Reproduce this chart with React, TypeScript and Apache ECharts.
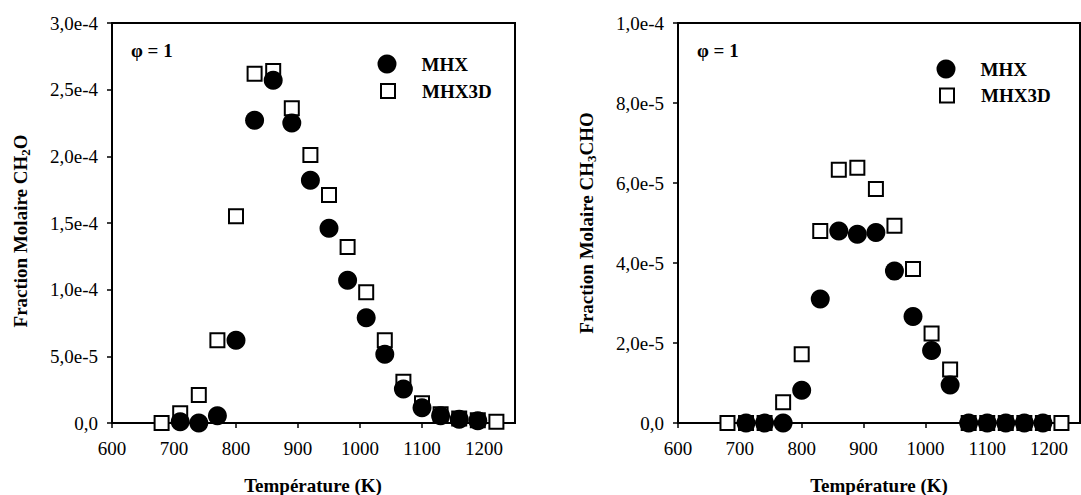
import React, { useEffect, useRef } from "react";
import * as echarts from "echarts";

// ---- data ----
const tempsMHX = [710, 740, 770, 800, 830, 860, 890, 920, 950, 980, 1010, 1040, 1070, 1100, 1130, 1160, 1190];
const tempsMHX3D = [680, 710, 740, 770, 800, 830, 860, 890, 920, 950, 980, 1010, 1040, 1070, 1100, 1130, 1160, 1190, 1220];

const ch2oMHX = [1.0e-6, 0, 5.5e-6, 6.2e-5, 2.27e-4, 2.57e-4, 2.25e-4, 1.82e-4, 1.46e-4, 1.07e-4, 7.9e-5, 5.15e-5, 2.55e-5, 1.15e-5, 5.5e-6, 2.8e-6, 1.7e-6];
const ch2oMHX3D = [0, 7.3e-6, 2.1e-5, 6.2e-5, 1.55e-4, 2.62e-4, 2.64e-4, 2.36e-4, 2.01e-4, 1.71e-4, 1.32e-4, 9.8e-5, 6.2e-5, 3.1e-5, 1.48e-5, 6.5e-6, 3.3e-6, 2.0e-6, 1.0e-6];

const ch3choMHX = [0, 0, 0, 8.2e-6, 3.1e-5, 4.8e-5, 4.72e-5, 4.76e-5, 3.8e-5, 2.66e-5, 1.81e-5, 9.5e-6, 0, 0, 0, 0, 0];
const ch3choMHX3D = [0, 0, 0, 5.2e-6, 1.72e-5, 4.8e-5, 6.33e-5, 6.38e-5, 5.85e-5, 4.93e-5, 3.85e-5, 2.24e-5, 1.34e-5, 0, 0, 0, 0, 0, 0];

const seriesNames = ["MHX", "MHX3D"];
const xMin = 600;
const xMax = 1250;
const xStep = 100;
const yMaxLeft = 3.0e-4;
const yStepLeft = 5.0e-5;
const yMaxRight = 1.0e-4;
const yStepRight = 2.0e-5;
const phiLabel = "φ = 1";
const xTitle = "Température (K)";

const FONT = "Liberation Serif, Times New Roman, serif";

const pairs = (xs: number[], ys: number[]) => xs.map((x, i) => [x, ys[i]]);

const fmtY = (v: number) => {
  if (Math.abs(v) < 1e-12) return "0,0";
  return v.toExponential(1).replace(".", ",").replace("e+", "e");
};

export default function App() {
  const ref = useRef<HTMLDivElement>(null);
  useEffect(() => {
    if (!ref.current) return;
    const chart = echarts.init(ref.current, null, { renderer: "svg" });

    const grids = [
      { left: 112, top: 23, width: 403, height: 400 },
      { left: 678, top: 23, width: 402, height: 400 },
    ];

    const xAxisCfg = (gi: number) => ({
      type: "value",
      gridIndex: gi,
      min: xMin,
      max: xMax,
      interval: xStep,
      axisLine: { show: true, onZero: false, lineStyle: { color: "#000", width: 2 } },
      axisTick: { show: true, inside: false, length: 5, lineStyle: { color: "#000", width: 1.5 } },
      splitLine: { show: false },
      axisLabel: {
        color: "#000",
        fontFamily: FONT,
        fontSize: 19,
        margin: 16,
        showMaxLabel: false,
        formatter: (v: number) => (v >= xMax ? "" : String(v)),
      },
    });

    const yAxisCfg = (gi: number, max: number, step: number) => ({
      type: "value",
      gridIndex: gi,
      min: 0,
      max,
      interval: step,
      axisLine: { show: true, onZero: false, lineStyle: { color: "#000", width: 2 } },
      axisTick: { show: true, inside: false, length: 5, lineStyle: { color: "#000", width: 1.5 } },
      splitLine: { show: false },
      axisLabel: {
        color: "#000",
        fontFamily: FONT,
        fontSize: 19,
        margin: 14,
        formatter: fmtY,
      },
    });

    const circleStyle = { color: "#000", opacity: 1 };
    const squareStyle = { color: "#fff", borderColor: "#000", borderWidth: 2, opacity: 1 };

    const mkSeries = (gi: number, name: string, data: number[][]) => ({
      type: "scatter",
      name,
      xAxisIndex: gi,
      yAxisIndex: gi,
      data,
      symbol: name === "MHX" ? "circle" : "rect",
      symbolSize: name === "MHX" ? 19 : 14,
      itemStyle: name === "MHX" ? circleStyle : squareStyle,
      emphasis: { disabled: true },
    });

    const mkLegend = (name: string, left: number, top: number) => {
      const isCircle = name === "MHX";
      return {
        data: [name],
        orient: "vertical",
        left,
        top,
        padding: 0,
        itemWidth: isCircle ? 19 : 14,
        itemHeight: isCircle ? 19 : 14,
        selectedMode: false,
        textStyle: {
          color: "#000",
          fontFamily: FONT,
          fontWeight: "bold",
          fontSize: 19,
          lineHeight: 19,
          padding: [0, 0, 0, isCircle ? 20 : 22],
        },
      };
    };

    const titleRich = {
      a: { fontFamily: FONT, fontWeight: "bold", fontSize: 19, lineHeight: 24, fill: "#000", color: "#000" },
      s: { fontFamily: FONT, fontWeight: "bold", fontSize: 13, lineHeight: 13, verticalAlign: "bottom", fill: "#000", color: "#000" },
    };

    const boldText = { fontFamily: FONT, fontWeight: "bold", fontSize: 19, fill: "#000" };

    const option = {
      animation: false,
      backgroundColor: "#fff",
      grid: grids.map((g) => ({ ...g, show: true, borderColor: "#000", borderWidth: 2, backgroundColor: "transparent" })),
      xAxis: [xAxisCfg(0), xAxisCfg(1)],
      yAxis: [yAxisCfg(0, yMaxLeft, yStepLeft), yAxisCfg(1, yMaxRight, yStepRight)],
      legend: [
        mkLegend(seriesNames[0], 377.5, 54.5),
        mkLegend(seriesNames[1], 380, 81.5),
        mkLegend(seriesNames[0], 936.5, 59.5),
        mkLegend(seriesNames[1], 939, 86),
      ],
      series: [
        mkSeries(0, seriesNames[1], pairs(tempsMHX3D, ch2oMHX3D)),
        mkSeries(0, seriesNames[0], pairs(tempsMHX, ch2oMHX)),
        mkSeries(1, seriesNames[1], pairs(tempsMHX3D, ch3choMHX3D)),
        mkSeries(1, seriesNames[0], pairs(tempsMHX, ch3choMHX)),
      ],
      graphic: [
        {
          type: "text",
          x: 20,
          y: 231,
          rotation: Math.PI / 2,
          style: {
            text: "{a|Fraction Molaire CH}{s|2}{a|O}",
            rich: titleRich,
            align: "center",
            verticalAlign: "middle",
          },
        },
        {
          type: "text",
          x: 586,
          y: 223,
          rotation: Math.PI / 2,
          style: {
            text: "{a|Fraction Molaire CH}{s|3}{a|CHO}",
            rich: titleRich,
            align: "center",
            verticalAlign: "middle",
          },
        },
        {
          type: "text",
          x: 313,
          y: 485,
          style: { ...boldText, text: xTitle, align: "center", verticalAlign: "middle" },
        },
        {
          type: "text",
          x: 879,
          y: 485,
          style: { ...boldText, text: xTitle, align: "center", verticalAlign: "middle" },
        },
        {
          type: "text",
          x: 131,
          y: 50,
          style: { ...boldText, text: phiLabel, align: "left", verticalAlign: "middle" },
        },
        {
          type: "text",
          x: 697,
          y: 50,
          style: { ...boldText, text: phiLabel, align: "left", verticalAlign: "middle" },
        },
      ],
    };

    chart.setOption(option as any);
    return () => chart.dispose();
  }, []);

  return (
    <div
      ref={ref}
      style={{ position: "absolute", left: 0, top: 0, width: 1081, height: 495, background: "#fff" }}
    />
  );
}
